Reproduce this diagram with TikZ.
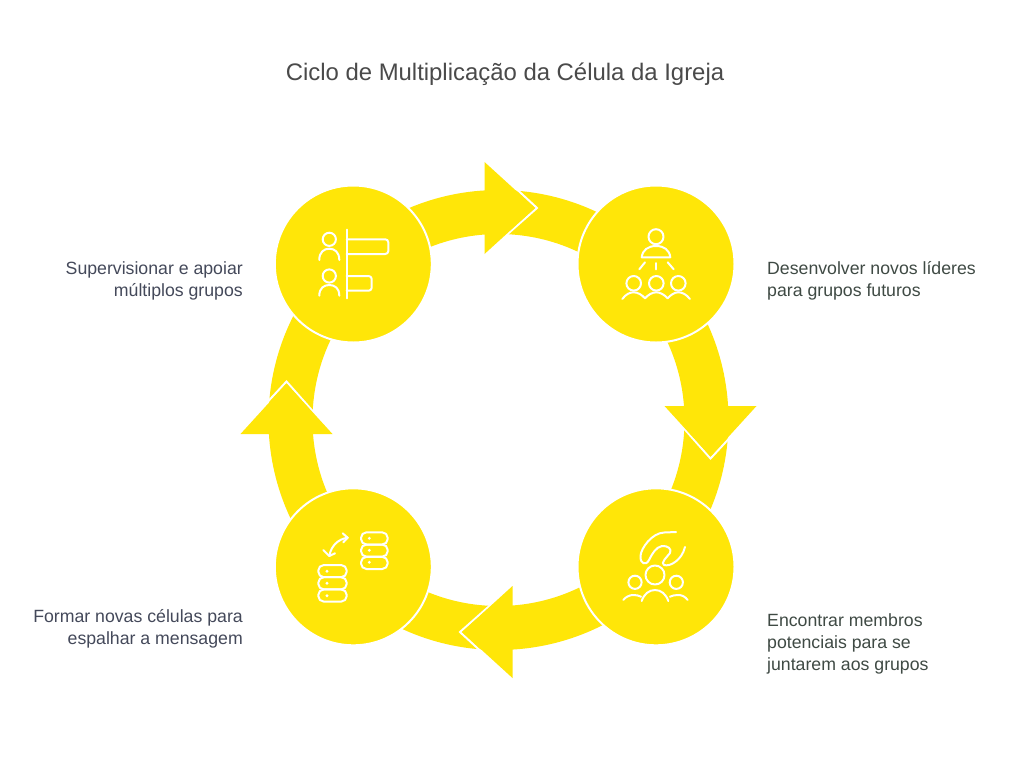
\documentclass[tikz,border=0pt]{standalone}
\usepackage{fontspec}
\setmainfont{Liberation Sans}
\definecolor{ybrand}{HTML}{FFE608}
\definecolor{tgrey}{HTML}{4A4A4A}
\definecolor{tleft}{HTML}{44495A}
\definecolor{tright}{HTML}{3F4A44}
\tikzset{
  x=1pt,y=-1pt,
  disc/.style={circle,fill=ybrand,draw=white,line width=2pt,minimum size=157pt,inner sep=0pt},
  ttl/.style={font=\fontsize{23.9}{28}\selectfont,text=tgrey,inner sep=0pt},
  lab/.style={font=\fontsize{17.7}{22}\selectfont,inner sep=0pt},
  ico/.style={draw=white,line width=2pt,line cap=round,line join=round},
}
\begin{document}
\begin{tikzpicture}
\useasboundingbox (0,0) rectangle (1024,782);
\fill[white] (0,0) rectangle (1024,782);
\coordinate (c) at (498.5,420);
% ring
\fill[ybrand,even odd rule] (c) circle[radius=230pt] (c) circle[radius=186pt];
% heads
\foreach \r in {0,90,180,270}{
  \begin{scope}[shift={(c)},rotate=\r]
    \draw[white,line width=2pt,line join=miter] (18,-231) -- (38.5,-212) -- (8,-185);
    \fill[ybrand] (-14,-258) -- (36.5,-212) -- (-14,-166) -- cycle;
  \end{scope}
}
% discs
\node[disc] (tl) at (353.3,264) {};
\node[disc] (tr) at (656,264) {};
\node[disc] (br) at (656,566.8) {};
\node[disc] (bl) at (353.3,566.8) {};
% icon TL
\draw[ico] (329.3,239.3) circle[radius=6.6pt];
\draw[ico] (319.3,260) .. controls (319.3,252) and (324,248.7) .. (329.3,248.7) .. controls (334.6,248.7) and (339.3,252) .. (339.3,260);
\draw[ico] (329.3,276) circle[radius=6.6pt];
\draw[ico] (319.3,295.7) .. controls (319.3,288) and (324,285) .. (329.3,285) .. controls (334.6,285) and (339.3,288) .. (339.3,295.7);
\draw[ico] (346.7,229.5) -- (346.7,298.3);
\draw[ico,rounded corners=3pt] (346.7,239.3) -- (388.3,239.3) -- (388.3,254) -- (346.7,254);
\draw[ico,rounded corners=3pt] (346.7,276) -- (371.7,276) -- (371.7,290.7) -- (346.7,290.7);
% icon TR
\draw[ico] (656,236.7) circle[radius=7.5pt];
\draw[ico] (641.7,257.3) .. controls (642.5,250) and (648,246) .. (656,246) .. controls (664,246) and (669.5,250) .. (670.3,257.3) -- cycle;
\draw[ico] (639.3,269.3) -- (645,262.3);
\draw[ico] (656.3,263) -- (656.3,269.3);
\draw[ico] (667.7,262.3) -- (673.7,269.3);
\foreach \x in {633.7,656.3,678.3}{\draw[ico] (\x,283.3) circle[radius=7.3pt];}
\draw[ico] (622.3,299) .. controls (626,294) and (630,292.3) .. (633.7,292.3) .. controls (638,292.3) and (642,295) .. (645,298.3) .. controls (648,295) and (652,292.3) .. (656.3,292.3) .. controls (660.5,292.3) and (664.5,295) .. (667.7,298.3) .. controls (670.5,295) and (674.5,292.3) .. (678.3,292.3) .. controls (682,292.3) and (686,294) .. (690,299);
% icon BR
\draw[ico] (655,575) circle[radius=9.5pt];
\draw[ico] (635,582.3) circle[radius=6.6pt];
\draw[ico] (676.3,582.3) circle[radius=6.6pt];
\draw[ico] (641.7,601) .. controls (644,594) and (649,590) .. (655,590) .. controls (661,590) and (666,594) .. (668.3,601);
\draw[ico] (623.3,600) .. controls (626,596.5) and (630,595) .. (633.3,595) .. controls (636,595) and (639,595.5) .. (641,596.7);
\draw[ico] (687.7,600) .. controls (685,596.5) and (682,595) .. (678.3,595) .. controls (675,595) and (672,595.5) .. (670,596.7);
\draw[ico] (676,532) -- (664,532.5) .. controls (652,533) and (641,548) .. (640.5,556) .. controls (640,564) and (646,566) .. (649,560) .. controls (652,554) and (656,547) .. (662,546) .. controls (668,545.5) and (672,549) .. (670,553) .. controls (667,557) and (660,563) .. (664,565) .. controls (670,567) and (682,560) .. (685,547);
% icon BL
\foreach \x/\y in {361/532.3,361/544.5,361/556.8}{\draw[ico,rounded corners=5.5pt] (\x,\y) rectangle ++(26.7,12.2);}
\foreach \x/\y in {318.3/565,318.3/577.2,318.3/589.4}{\draw[ico,rounded corners=5.5pt] (\x,\y) rectangle ++(28.4,12.2);}
\foreach \x/\y in {369.3/538.3,369.3/550.3,369.3/562.3,327/571.3,327/583.3,327/595.7}{\fill[white] (\x,\y) circle[radius=1.6pt];}
\draw[ico] (347.7,537.7) .. controls (338,539) and (331,546) .. (329.3,556);
\draw[ico] (342.7,533.3) -- (347.7,537.7) -- (343.3,542.3);
\draw[ico] (323.3,550) -- (329.3,556) -- (335,553.3);
% title
\node[ttl,anchor=base] (title) at (505,80) {Ciclo de Multiplicação da Célula da Igreja};
% labels
\node[lab,text=tleft,anchor=east,align=right] (l1) at (243,281) {Supervisionar e apoiar\\múltiplos grupos};
\node[lab,text=tright,anchor=west,align=left] (l2) at (767,281) {Desenvolver novos líderes\\para grupos futuros};
\node[lab,text=tright,anchor=west,align=left] (l3) at (767,644) {Encontrar membros\\potenciais para se\\juntarem aos grupos};
\node[lab,text=tleft,anchor=east,align=right] (l4) at (243,629) {Formar novas células para\\espalhar a mensagem};
\end{tikzpicture}
\end{document}
